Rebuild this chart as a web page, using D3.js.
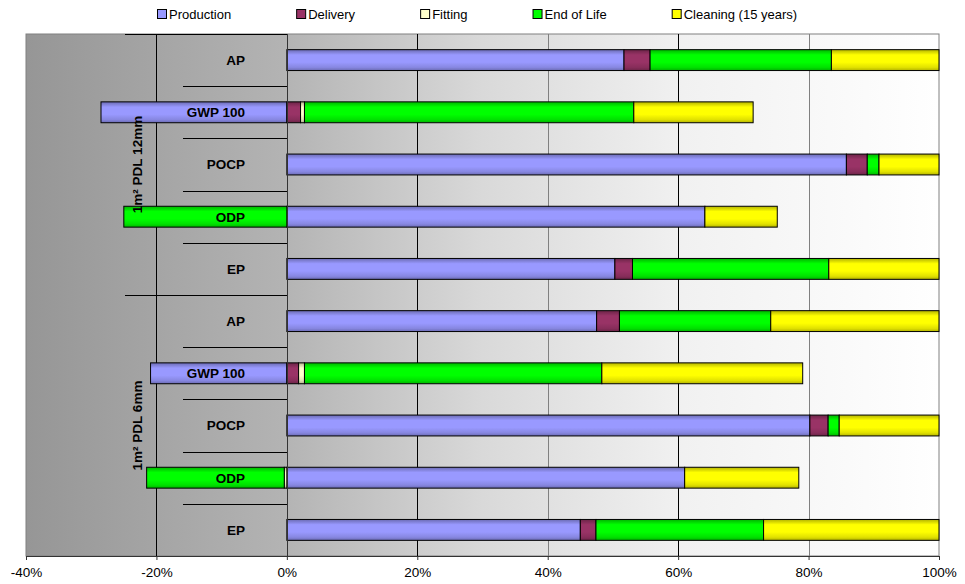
<!DOCTYPE html>
<html>
<head>
<meta charset="utf-8">
<script src="https://cdnjs.cloudflare.com/ajax/libs/d3/7.8.5/d3.min.js"></script>
<style>
  body { margin: 0; background: #fff; }
  text { font-family: Arial, "Liberation Sans", sans-serif; }
</style>
</head>
<body>
<svg id="chart" width="965" height="584"></svg>
<script>
// chart data (percent of total impact)
var groups = ["1m² PDL 12mm", "1m² PDL 6mm"]
var impacts = ["AP", "GWP 100", "POCP", "ODP", "EP"]
var seriesNames = ["Production", "Delivery", "Fitting", "End of Life", "Cleaning (15 years)"]
var seriesColors = ["#9999ff", "#993366", "#ffffcc", "#00ff00", "#ffff00"]

var production = [51.7, -28.5, 85.8, 64.1, 50.3, 47.5, -20.9, 80.2, 61.0, 45.0]
var delivery   = [4.0, 2.1, 3.2, 0, 2.7, 3.5, 1.8, 2.8, 0, 2.4]
var fitting    = [0, 0.6, 0, 0, 0, 0, 0.9, 0, -0.4, 0]
var endOfLife  = [27.8, 50.5, 1.8, -25.0, 30.1, 23.2, 45.6, 1.7, -21.1, 25.7]
var cleaning   = [16.5, 18.3, 9.2, 11.1, 16.9, 25.8, 30.8, 15.3, 17.5, 26.9]

var xTicks = [-40, -20, 0, 20, 40, 60, 80, 100]

// build rows for d3.stack
var rows = []
groups.forEach(function (g, gi) {
    impacts.forEach(function (imp, ii) {
        var i = gi * impacts.length + ii
        var r = { id: i, group: g, impact: imp }
        r[seriesNames[0]] = production[i]
        r[seriesNames[1]] = delivery[i]
        r[seriesNames[2]] = fitting[i]
        r[seriesNames[3]] = endOfLife[i]
        r[seriesNames[4]] = cleaning[i]
        rows.push(r)
    })
})

var stacked = d3.stack().keys(seriesNames).offset(d3.stackOffsetDiverging)(rows)

var svg = d3.select("#chart")
var pLeft = 26, pRight = 939, pTop = 34, pBottom = 556

var x = d3.scaleLinear().domain([-40, 100]).range([pLeft, pRight])
var y = d3.scaleBand().domain(rows.map(function (d) { return d.id }))
    .range([pTop, pBottom]).paddingInner(0.6).paddingOuter(0.3)
var step = y.step()

var defs = svg.append("defs")
var bg = defs.append("linearGradient").attr("id", "bg").attr("x1", "0").attr("x2", "1").attr("y1", "0").attr("y2", "0")
bg.append("stop").attr("offset", "0").attr("stop-color", "#969696")
bg.append("stop").attr("offset", "0.28").attr("stop-color", "#b3b3b3")
bg.append("stop").attr("offset", "0.5").attr("stop-color", "#d9d9d9")
bg.append("stop").attr("offset", "0.72").attr("stop-color", "#f1f1f1")
bg.append("stop").attr("offset", "1").attr("stop-color", "#ffffff")

// tube-like shading on each bar colour
seriesColors.forEach(function (c, i) {
    var g = defs.append("linearGradient").attr("id", "bar" + i)
        .attr("x1", "0").attr("x2", "0").attr("y1", "0").attr("y2", "1")
    var dark = d3.color(c).darker(1).formatHex()
    var mid = d3.color(c).darker(0.35).formatHex()
    g.append("stop").attr("offset", "0").attr("stop-color", dark)
    g.append("stop").attr("offset", "0.25").attr("stop-color", c)
    g.append("stop").attr("offset", "0.6").attr("stop-color", c)
    g.append("stop").attr("offset", "0.85").attr("stop-color", mid)
    g.append("stop").attr("offset", "1").attr("stop-color", dark)
})

// plot area
svg.append("rect").attr("x", pLeft).attr("y", pTop).attr("width", pRight - pLeft).attr("height", pBottom - pTop)
    .attr("fill", "url(#bg)").attr("stroke", "#808080").attr("stroke-width", 1)

// vertical gridlines
var gridColors = { "-20": "#000", "20": "#000", "40": "#808080", "60": "#000", "80": "#808080" }
svg.append("g").selectAll("line").data(xTicks.filter(function (t) { return t !== 0 && t !== -40 && t !== 100 }))
    .enter().append("line")
    .attr("x1", function (d) { return Math.round(x(d)) + 0.5 }).attr("x2", function (d) { return Math.round(x(d)) + 0.5 })
    .attr("y1", pTop).attr("y2", pBottom)
    .attr("stroke", function (d) { return gridColors[d] }).attr("stroke-width", 1)

// category axis tick lines (two levels)
var boundaries = d3.range(rows.length + 1)
svg.append("g").selectAll("line").data(boundaries).enter().append("line")
    .attr("x1", function (d) { return d % impacts.length === 0 ? 125 : 183 })
    .attr("x2", Math.round(x(0)))
    .attr("y1", function (d) { return Math.round(pTop + d * step) + 0.5 })
    .attr("y2", function (d) { return Math.round(pTop + d * step) + 0.5 })
    .attr("stroke", "#000").attr("stroke-width", 1)

// bars
svg.append("g").selectAll("g").data(stacked).enter().append("g")
    .attr("fill", function (d, i) { return "url(#bar" + i + ")" })
    .selectAll("rect").data(function (d) { return d.filter(function (p) { return p[1] - p[0] !== 0 }) })
    .enter().append("rect")
    .attr("x", function (d) { return x(Math.min(d[0], d[1])) })
    .attr("width", function (d) { return Math.abs(x(d[1]) - x(d[0])) })
    .attr("y", function (d) { return y(d.data.id) })
    .attr("height", y.bandwidth())
    .attr("stroke", "#000").attr("stroke-width", 1)

// value axis line at 0 and bottom axis
svg.append("line").attr("x1", Math.round(x(0)) + 0.5).attr("x2", Math.round(x(0)) + 0.5)
    .attr("y1", pTop).attr("y2", pBottom).attr("stroke", "#333")

var xAxis = d3.axisBottom(x).tickValues(xTicks).tickSize(4).tickSizeOuter(0)
    .tickFormat(function (d) { return d + "%" })
var ax = svg.append("g").attr("transform", "translate(0," + pBottom + ")").call(xAxis)
ax.select(".domain").attr("stroke", "#333")
ax.selectAll(".tick line").attr("stroke", "#333")
ax.selectAll(".tick text").attr("font-size", "13.5px").attr("fill", "#000").attr("dy", "1.05em")
    .style("font-family", "Arial, 'Liberation Sans', sans-serif")

// category labels
svg.append("g").selectAll("text").data(rows).enter().append("text")
    .text(function (d) { return d.impact })
    .attr("x", 245).attr("y", function (d) { return y(d.id) + y.bandwidth() / 2 })
    .attr("dy", "0.36em").attr("text-anchor", "end")
    .attr("font-size", "13.5px").attr("font-weight", "bold").attr("fill", "#000")

// group labels, rotated
svg.append("g").selectAll("text").data(groups).enter().append("text")
    .text(function (d) { return d })
    .attr("transform", function (d, i) {
        var cy = pTop + (i + 0.5) * impacts.length * step
        return "translate(137," + cy + ") rotate(-90)"
    })
    .attr("dy", "0.36em").attr("text-anchor", "middle")
    .attr("font-size", "13.5px").attr("font-weight", "bold").attr("fill", "#000")

// legend
var lg = svg.append("g")
var lx = 157
seriesNames.forEach(function (s, i) {
    var item = lg.append("g").attr("transform", "translate(" + lx + ",0)")
    item.append("rect").attr("x", 0.5).attr("y", 9.5).attr("width", 9).attr("height", 9)
        .attr("fill", seriesColors[i]).attr("stroke", "#000").attr("stroke-width", 1)
    var t = item.append("text").text(s).attr("x", 12).attr("y", 18.5)
        .attr("font-size", "13px").attr("fill", "#000")
    lx += 12 + t.node().getComputedTextLength() + 65
})
</script>
</body>
</html>
